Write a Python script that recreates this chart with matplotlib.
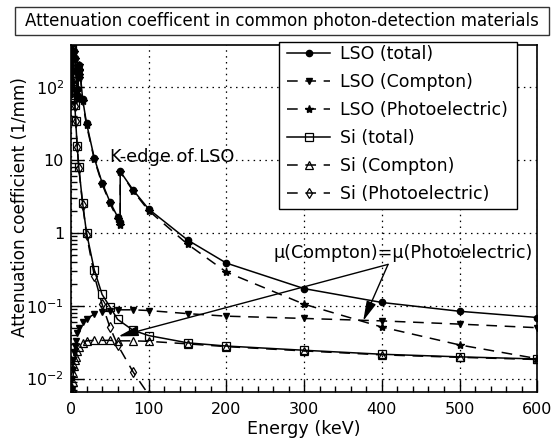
import matplotlib
matplotlib.use("Agg")
import matplotlib.pyplot as plt
from matplotlib.patches import Rectangle
from matplotlib.ticker import FixedLocator, FixedFormatter, MultipleLocator, LogLocator, NullFormatter

plt.rcParams['font.family'] = ['DejaVu Sans']

# ---------------- data (1/mm vs keV) ----------------
title_text = "Attenuation coefficent in common photon-detection materials"

lso_energy = [1, 1.5, 2, 3, 4, 5, 6, 8, 9.24, 9.24, 10, 10.35, 10.35, 10.87, 10.87,
              15, 20, 30, 40, 50, 60, 63.31, 63.31, 80, 100, 150, 200, 300, 400, 500, 600]
lso_total = [4000, 1600, 800, 420, 310, 250, 175, 95, 75, 180, 150, 140, 180, 170, 205,
             68, 32, 10.6, 4.9, 2.68, 1.66, 1.40, 7.0, 3.87, 2.12, 0.80, 0.385, 0.172, 0.111, 0.084, 0.069]
lso_photo = [3950, 1580, 790, 410, 300, 243, 168, 90, 70, 175, 145, 135, 175, 165, 200,
             64, 30, 10.2, 4.7, 2.55, 1.55, 1.30, 6.9, 3.75, 2.02, 0.70, 0.29, 0.105, 0.051, 0.029, 0.0188]

comp_energy = [1, 1.5, 2, 3, 4, 5, 6, 8, 10, 15, 20, 30, 40, 50, 60, 80, 100, 150, 200, 300, 400, 500, 600]
lso_compton = [0.007, 0.010, 0.013, 0.018, 0.023, 0.028, 0.033, 0.042, 0.050, 0.060, 0.066, 0.077,
               0.082, 0.086, 0.088, 0.088, 0.086, 0.078, 0.072, 0.067, 0.062, 0.056, 0.050]
si_compton = [0.006, 0.0075, 0.009, 0.012, 0.015, 0.018, 0.020, 0.024, 0.027, 0.031, 0.033, 0.0335,
              0.0335, 0.0335, 0.033, 0.033, 0.0325, 0.030, 0.0275, 0.024, 0.0212, 0.0196, 0.0183]

si_energy = [1, 1.5, 1.839, 1.839, 2, 3, 4, 5, 6, 8, 10, 15, 20, 30, 40, 50, 60, 80, 100,
             150, 200, 300, 400, 500, 600]
si_total = [366, 123, 72, 743, 647, 228, 105, 57, 34.5, 15.4, 8.06, 2.54, 1.0, 0.31, 0.143, 0.097,
            0.065, 0.046, 0.039, 0.031, 0.028, 0.0245, 0.0216, 0.0199, 0.0186]

si_photo_energy = [1, 1.5, 1.839, 1.839, 2, 3, 4, 5, 6, 8, 10, 15, 20, 30, 40, 50, 60, 80, 100]
si_photo = [360, 120, 70, 740, 640, 225, 103, 56, 34, 15, 7.9, 2.45, 0.95, 0.26, 0.105, 0.051,
            0.029, 0.0123, 0.006]

x_ticks = [0, 100, 200, 300, 400, 500, 600]
y_ticks = [0.01, 0.1, 1, 10, 100]
y_tick_labels = [r'$10^{-2}$', r'$10^{-1}$', '1', '10', r'$10^{2}$']

# ---------------- figure ----------------
W, H = 553, 438
fig = plt.figure(figsize=(W / 100, H / 100), dpi=100)
ax = fig.add_axes([71 / W, 1 - 392 / H, 466.3 / W, 347 / H])

dash = (0, (7, 5))
kw = dict(color='black', lw=1.1)
ax.plot(lso_energy, lso_total, '-', marker='o', ms=4.5, mfc='black', mec='black',
        label='LSO (total)', **kw)
ax.plot(comp_energy, lso_compton, linestyle=dash, marker='v', ms=5, mfc='black', mec='black',
        label='LSO (Compton)', **kw)
ax.plot(lso_energy, lso_photo, linestyle=dash, marker='*', ms=6, mfc='black', mec='black',
        label='LSO (Photoelectric)', **kw)
ax.plot(si_energy, si_total, '-', marker='s', ms=6, mfc='none', mec='black', mew=0.9,
        label='Si (total)', **kw)
ax.plot(comp_energy, si_compton, linestyle=dash, marker='^', ms=6, mfc='none', mec='black', mew=0.9,
        label='Si (Compton)', **kw)
ax.plot(si_photo_energy, si_photo, linestyle=dash, marker='d', ms=5, mfc='none', mec='black', mew=0.9,
        label='Si (Photoelectric)', **kw)

ax.set_yscale('log')
ax.set_xlim(0, 600)
ax.set_ylim(0.00655, 380)

ax.xaxis.set_major_locator(FixedLocator(x_ticks))
ax.xaxis.set_minor_locator(MultipleLocator(20))
ax.yaxis.set_major_locator(FixedLocator(y_ticks))
ax.yaxis.set_major_formatter(FixedFormatter(y_tick_labels))
ax.yaxis.set_minor_locator(LogLocator(base=10, subs=range(2, 10)))
ax.yaxis.set_minor_formatter(NullFormatter())

ax.tick_params(which='both', direction='in', top=False, right=False, width=1, labelsize=11.5)
ax.tick_params(which='major', length=9, pad=7)
ax.tick_params(axis='y', which='major', pad=5)
ax.tick_params(which='minor', length=4.5)

ax.grid(True, which='major', color='black', linestyle=(0, (1.2, 3.5)), lw=0.9)
for s in ax.spines.values():
    s.set_linewidth(1.2)

ax.set_xlabel('Energy (keV)', fontsize=12.6, labelpad=2)
ax.set_ylabel('Attenuation coefficient (1/mm)', fontsize=12.2)
ax.yaxis.set_label_coords((29 - 71) / 466.3, (392 - 207) / 347)

# annotations
ax.text(50.2, 9.5, 'K-edge of LSO', fontsize=12.8, ha='left', va='baseline')
ax.text(261, 0.446, 'μ(Compton)=μ(Photoelectric)', fontsize=12.6, ha='left', va='baseline')
aprops = dict(arrowstyle='-|>,head_length=1.2,head_width=0.3', color='black', lw=1,
              shrinkA=0, shrinkB=0)
ax.annotate('', xy=(376, 0.062), xytext=(408, 0.37), arrowprops=aprops)
ax.annotate('', xy=(61, 0.038), xytext=(408, 0.37), arrowprops=aprops)

# legend: entries without frame, frame drawn as a white box behind them
ax.add_patch(Rectangle((279 / W, 1 - 209 / H), 238 / W, 167 / H, transform=fig.transFigure,
                       facecolor='white', edgecolor='black', lw=1, zorder=4, clip_on=False))
leg = ax.legend(loc='upper left', bbox_to_anchor=((287 - 71) / 466.3, (392 - 45) / 347),
                fontsize=12.5, frameon=False, borderaxespad=0, borderpad=0,
                handlelength=2.5, handletextpad=0.55, labelspacing=0.58)
leg.set_zorder(5)

# title box
fig.add_artist(Rectangle((15 / W, 1 - 35 / H), 534 / W, 28 / H, transform=fig.transFigure,
                         fill=False, edgecolor='#333333', lw=1))
fig.text(282 / W, 1 - 21 / H, title_text, ha='center', va='center', fontsize=12)

fig.savefig('out.png', dpi=100)
